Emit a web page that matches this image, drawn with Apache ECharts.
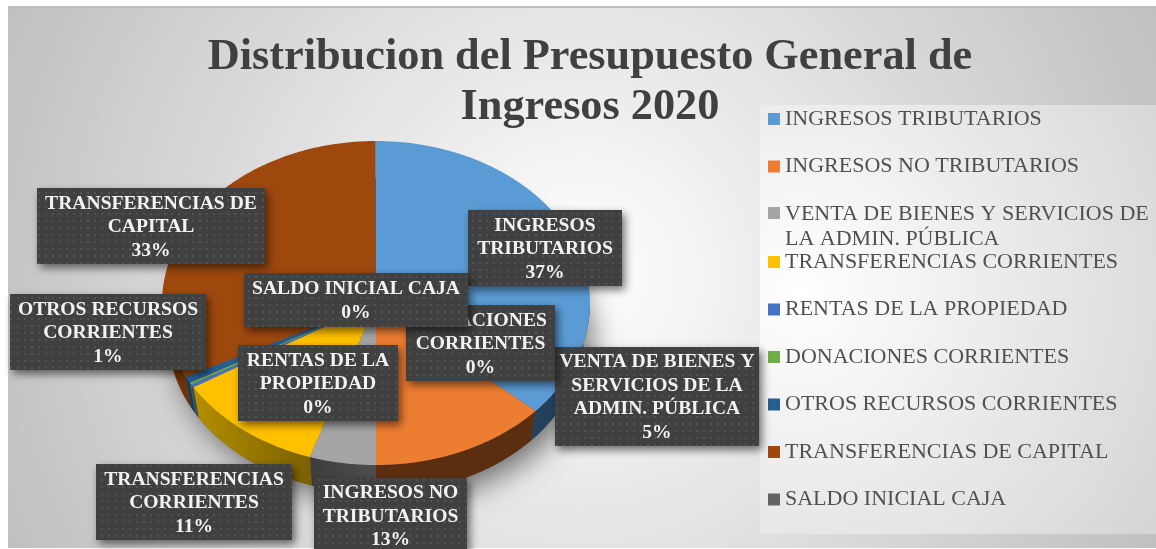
<!DOCTYPE html>
<html>
<head>
<meta charset="utf-8">
<style>html,body{margin:0;padding:0;background:#fff}#c{width:1156px;height:549px}</style>
<script src="https://cdn.jsdelivr.net/npm/echarts@6/dist/echarts.min.js"></script>
</head>
<body>
<div id="c"></div>
<script>
const chartTitle = 'Distribucion del Presupuesto General de\nIngresos 2020';
const categories = ['INGRESOS TRIBUTARIOS','INGRESOS NO TRIBUTARIOS','VENTA DE BIENES Y SERVICIOS DE LA ADMIN. PÚBLICA','TRANSFERENCIAS CORRIENTES','RENTAS DE LA PROPIEDAD','DONACIONES CORRIENTES','OTROS RECURSOS CORRIENTES','TRANSFERENCIAS DE CAPITAL','SALDO INICIAL CAJA'];
const values = [36.6,13.4,5.0,11.3,0.3,0.2,0.65,32.5,0.05];
const labelNames = ['INGRESOS\nTRIBUTARIOS','INGRESOS NO\nTRIBUTARIOS','VENTA DE BIENES Y\nSERVICIOS DE LA\nADMIN. PÚBLICA','TRANSFERENCIAS\nCORRIENTES','RENTAS DE LA\nPROPIEDAD','DONACIONES\nCORRIENTES','OTROS RECURSOS\nCORRIENTES','TRANSFERENCIAS DE\nCAPITAL','SALDO INICIAL CAJA'];
const topColors = ['#5b9bd5','#ed7d31','#a5a5a5','#ffc000','#4472c4','#70ad47','#255e91','#9e480e','#636363'];
const wallLeft = ['#24425f','#5c2e10','#3d3d3d','#b58f00','#2a4678','#446a2a','#173a5a','#6e320a','#3c3c3c'];
const wallRight = ['#1f3b55','#5c2e10','#4d4d4d','#7a6000','#2a4678','#446a2a','#173a5a','#6e320a','#3c3c3c'];
// label box layout [left, top, width, height]
const labelBoxes = [[468,210,154,76],[314,478,153,75],[555,347,204,99],[96,464,196,76],[238,345,160,76],[406,305,149,76],[10,294,196,76],[37,188,228,76],[244,273,224,54]];

const pie = {cx:376,cy:303,rx:214,ry:162,depth:33,baseScale:0.97};
const total = values.reduce((a,b)=>a+b,0);
const starts = [];
values.reduce((acc,v,i)=>{starts[i]=acc;return acc+v;},0);
const angOf = v => v/total*Math.PI*2;
function arcPts(a0,a1,k,dy){
  const n=Math.max(2,Math.ceil((a1-a0)/0.01)),pts=[];
  for(let i=0;i<=n;i++){const a=a0+(a1-a0)*i/n;pts.push([pie.cx+k*pie.rx*Math.sin(a),pie.cy-k*pie.ry*Math.cos(a)+dy]);}
  return pts;
}
const tile=document.createElement('canvas');tile.width=14;tile.height=14;
(function(){const g=tile.getContext('2d');g.fillStyle='#404040';g.fillRect(0,0,14,14);g.fillStyle='#525252';
[[3,3],[10,3],[3,10],[10,10]].forEach(p=>g.fillRect(p[0],p[1],2,2));})();

function sliceRender(idx){
  return function(params,api){
    const v=api.value(0);
    const a0=angOf(starts[idx]),a1=a0+angOf(v);
    const kids=[];
    const w0=Math.max(a0,Math.PI/2),w1=Math.min(a1,Math.PI*1.5);
    if(w1>w0){
      const front=arcPts(w0,w1,1,0),back=arcPts(w0,w1,pie.baseScale,pie.depth).reverse();
      kids.push({type:'polygon',shape:{points:front.concat(back)},style:{fill:{type:'linear',x:0,y:0,x2:1,y2:0,colorStops:[{offset:0,color:wallLeft[idx]},{offset:1,color:wallRight[idx]}]}},silent:true});
    }
    kids.push({type:'polygon',shape:{points:[[pie.cx,pie.cy]].concat(arcPts(a0,a1,1,0))},style:{fill:topColors[idx]},silent:true});
    return {type:'group',children:kids};
  };
}
function labelRender(params,api){
  const i=params.dataIndex,b=labelBoxes[i];
  const pct=Math.round(api.value(0)/total*100)+'%';
  return {type:'group',children:[
    {type:'rect',shape:{x:b[0],y:b[1],width:b[2],height:b[3]},style:{fill:{image:tile,repeat:'repeat'},shadowBlur:8,shadowOffsetX:3,shadowOffsetY:4,shadowColor:'rgba(0,0,0,0.55)'},silent:true},
    {type:'text',style:{x:b[0]+b[2]/2,y:b[1]+b[3]/2+1,text:labelNames[i]+'\n'+pct,align:'center',verticalAlign:'middle',fill:'#f2f2f2',font:'bold 19.6px "Liberation Serif"',lineHeight:23.5},silent:true}
  ]};
}
const legendText={color:'#505050',fontFamily:'Liberation Serif',fontSize:22};
const series=categories.map((name,i)=>({
  type:'custom',name,coordinateSystem:'none',z:2,
  itemStyle:{color:topColors[i]},
  data:[[values[i]]],renderItem:sliceRender(i),animation:false,silent:true
}));
series.push({type:'custom',name:'etiquetas',coordinateSystem:'none',z:5,data:values.map(v=>[v]),renderItem:labelRender,animation:false,silent:true});

const chart=echarts.init(document.getElementById('c'),null,{renderer:'canvas'});
chart.setOption({
  animation:false,
  title:{text:chartTitle,left:585,top:28,textAlign:'center',textStyle:{fontFamily:'Liberation Serif',fontWeight:'bold',fontSize:44.3,lineHeight:50,color:'#404040'}},
  legend:[
    {orient:'vertical',left:763,top:103,itemWidth:12,itemHeight:12,itemGap:25.5,selectedMode:false,icon:'rect',itemStyle:{borderWidth:0},textStyle:legendText,data:categories.slice(0,2)},
    {orient:'vertical',left:763,top:197,itemWidth:12,itemHeight:40,selectedMode:false,icon:'path://M0 0H12V12H0Z M0 40H0.01V40Z',itemStyle:{borderWidth:0},textStyle:Object.assign({},legendText,{lineHeight:25}),formatter:n=>n.replace(' LA ADMIN','\nLA ADMIN'),data:[categories[2]]},
    {orient:'vertical',left:763,top:246,itemWidth:12,itemHeight:12,itemGap:25.5,selectedMode:false,icon:'rect',itemStyle:{borderWidth:0},textStyle:legendText,data:categories.slice(3)}
  ],
  graphic:[
    {type:'rect',z:-10,silent:true,shape:{x:8,y:6,width:1148,height:542},style:{fill:new echarts.graphic.RadialGradient(582,275,640,[{offset:0,color:'#ffffff'},{offset:1,color:'#bfbfbf'}],true)}},
    {type:'rect',z:-10,silent:true,shape:{x:8,y:6,width:1148,height:2},style:{fill:'#bdbdbd'}},
    {type:'rect',z:-9,silent:true,shape:{x:760,y:105,width:396,height:429},style:{fill:new echarts.graphic.RadialGradient(800,290,420,[{offset:0,color:'#ffffff'},{offset:1,color:'#d6d6d6'}],true)}},
    {type:'ellipse',z:-8,silent:true,shape:{cx:pie.cx,cy:pie.cy+pie.depth,rx:pie.rx*pie.baseScale,ry:pie.ry*pie.baseScale},style:{fill:'#555',shadowBlur:30,shadowOffsetX:8,shadowOffsetY:8,shadowColor:'rgba(0,0,0,0.55)'}}
  ],
  series
});
</script>
</body>
</html>
